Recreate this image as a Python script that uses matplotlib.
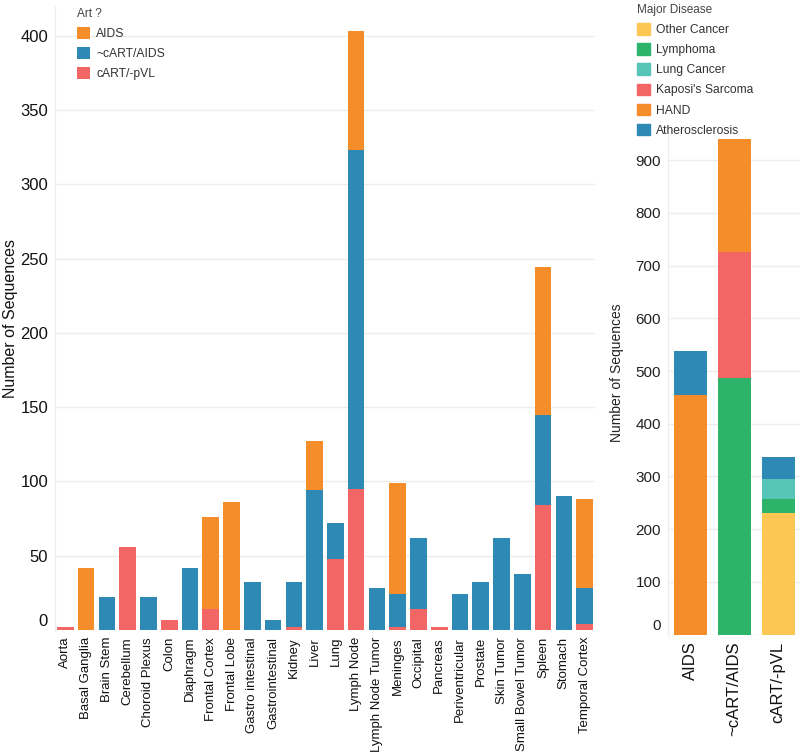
#!/usr/bin/env python3
"""
Stacked bar charts of sequence counts by tissue and by ART status.
"""

import matplotlib
matplotlib.use("Agg")
import matplotlib.pyplot as plt
from matplotlib.patches import Patch
from matplotlib.transforms import offset_copy

plt.rcParams['font.family'] = ['Liberation Sans', 'DejaVu Sans']

# left panel: sequences per tissue, split by ART status
tissues = ['Aorta', 'Basal Ganglia', 'Brain Stem', 'Cerebellum', 'Choroid Plexus',
           'Colon', 'Diaphragm', 'Frontal Cortex', 'Frontal Lobe',
           'Gastro intestinal', 'Gastrointestinal', 'Kidney', 'Liver', 'Lung',
           'Lymph Node', 'Lymph Node Tumor', 'Meninges', 'Occipital', 'Pancreas',
           'Periventricular', 'Prostate', 'Skin Tumor', 'Small Bowel Tumor',
           'Spleen', 'Stomach', 'Temporal Cortex']
cart_pvl = [2, 0, 0, 56, 0, 7, 0, 14, 0, 0, 0, 2, 0, 48,
            95, 0, 2, 14, 2, 0, 0, 0, 0, 84, 0, 4]
nocart_aids = [0, 0, 22, 0, 22, 0, 42, 0, 0, 32, 7, 30, 94, 24,
               228, 28, 22, 48, 0, 24, 32, 62, 38, 61, 90, 24]
aids = [0, 42, 0, 0, 0, 0, 0, 62, 86, 0, 0, 0, 33, 0,
        80, 0, 75, 0, 0, 0, 0, 0, 0, 99, 0, 60]

# right panel: sequences per ART group, split by major disease
groups = ['AIDS', '~cART/AIDS', 'cART/-pVL']
diseases = ['Other Cancer', 'Lymphoma', 'Lung Cancer', "Kaposi's Sarcoma",
            'HAND', 'Atherosclerosis']
other_cancer = [0, 0, 230]
lymphoma = [0, 487, 27]
lung_cancer = [0, 0, 38]
kaposi = [0, 239, 0]
hand = [454, 214, 0]
athero = [84, 0, 42]

ORANGE = '#F68D2B'
BLUE = '#2E8AB4'
RED = '#F26666'
GREEN = '#2DB46A'
TEAL = '#57C4B8'
YELLOW = '#FDC754'
GRID = '#ECECEC'

W, H = 800, 752
fig = plt.figure(figsize=(W / 100, H / 100), dpi=100)


def style_axis(ax):
    for s in ['top', 'right', 'bottom']:
        ax.spines[s].set_visible(False)
    ax.spines['left'].set_color(GRID)
    ax.grid(axis='y', color=GRID, linewidth=1)
    ax.set_axisbelow(True)
    ax.tick_params(length=0)
    # the zero label sits a little above its gridline
    for lab in ax.get_yticklabels():
        if lab.get_text() in ('0', '−0'):
            lab.set_transform(offset_copy(lab.get_transform(), fig=fig, y=10, units='dots'))


# ---- left panel
ax1 = fig.add_axes([55 / W, 1 - 630 / H, 540 / W, 624 / H])
x = range(len(tissues))
b_red = ax1.bar(x, cart_pvl, width=0.8, color=RED)
b_blue = ax1.bar(x, nocart_aids, width=0.8, bottom=cart_pvl, color=BLUE)
base = [a + b for a, b in zip(cart_pvl, nocart_aids)]
b_orange = ax1.bar(x, aids, width=0.8, bottom=base, color=ORANGE)
ax1.set_xlim(-0.5, len(tissues) - 0.5)
ax1.set_ylim(0, 420)
ax1.set_yticks(range(0, 401, 50))
ax1.set_xticks(list(x))
ax1.set_xticklabels(tissues, rotation=90, fontsize=9.5, color='#111111')
ax1.tick_params(axis='y', labelsize=12, labelcolor='#111111', pad=5)
ax1.tick_params(axis='x', pad=5)
ax1.set_ylabel('Number of Sequences', fontsize=11.5, color='#111111')
ax1.yaxis.set_label_coords(-0.068, 0.5)
style_axis(ax1)
ax1.legend([b_orange, b_blue, b_red], ['AIDS', '~cART/AIDS', 'cART/-pVL'],
           title='Art ?', loc='upper left', bbox_to_anchor=(72 / W, 1 - 3 / H),
           bbox_transform=fig.transFigure, frameon=False, fontsize=8.7,
           title_fontsize=8.5, alignment='left', handlelength=1.1,
           handleheight=1.1, handletextpad=0.5, labelspacing=0.6,
           labelcolor='#333333', borderaxespad=0)
ax1.get_legend().get_title().set_color('#444444')

# ---- right panel
ax2 = fig.add_axes([668 / W, 1 - 634.5 / H, 132 / W, 499.5 / H])
g = range(len(groups))
series = [other_cancer, lymphoma, lung_cancer, kaposi, hand, athero]
colors = [YELLOW, GREEN, TEAL, RED, ORANGE, BLUE]
bottom = [0, 0, 0]
for vals, c in zip(series, colors):
    ax2.bar(g, vals, width=0.75, bottom=bottom, color=c)
    bottom = [b + v for b, v in zip(bottom, vals)]
ax2.set_xlim(-0.5, 2.5)
ax2.set_ylim(0, 948)
ax2.set_yticks(range(0, 901, 100))
ax2.set_xticks(list(g))
ax2.set_xticklabels(groups, rotation=90, fontsize=12, color='#111111')
ax2.tick_params(axis='y', labelsize=11, labelcolor='#222222', pad=5)
ax2.tick_params(axis='x', pad=5)
ax2.set_ylabel('Number of Sequences', fontsize=10, color='#222222')
ax2.yaxis.set_label_coords(-0.33, 0.524)
style_axis(ax2)
handles = [Patch(color=c) for c in colors]
fig.legend(handles, diseases, title='Major Disease', loc='upper left',
           bbox_to_anchor=(632 / W, 1 + 1 / H), frameon=False, fontsize=8.7,
           title_fontsize=8.5, alignment='left', handlelength=1.1,
           handleheight=1.1, handletextpad=0.5, labelspacing=0.6,
           labelcolor='#333333', borderaxespad=0).get_title().set_color('#444444')

fig.savefig('out.png', dpi=100)
